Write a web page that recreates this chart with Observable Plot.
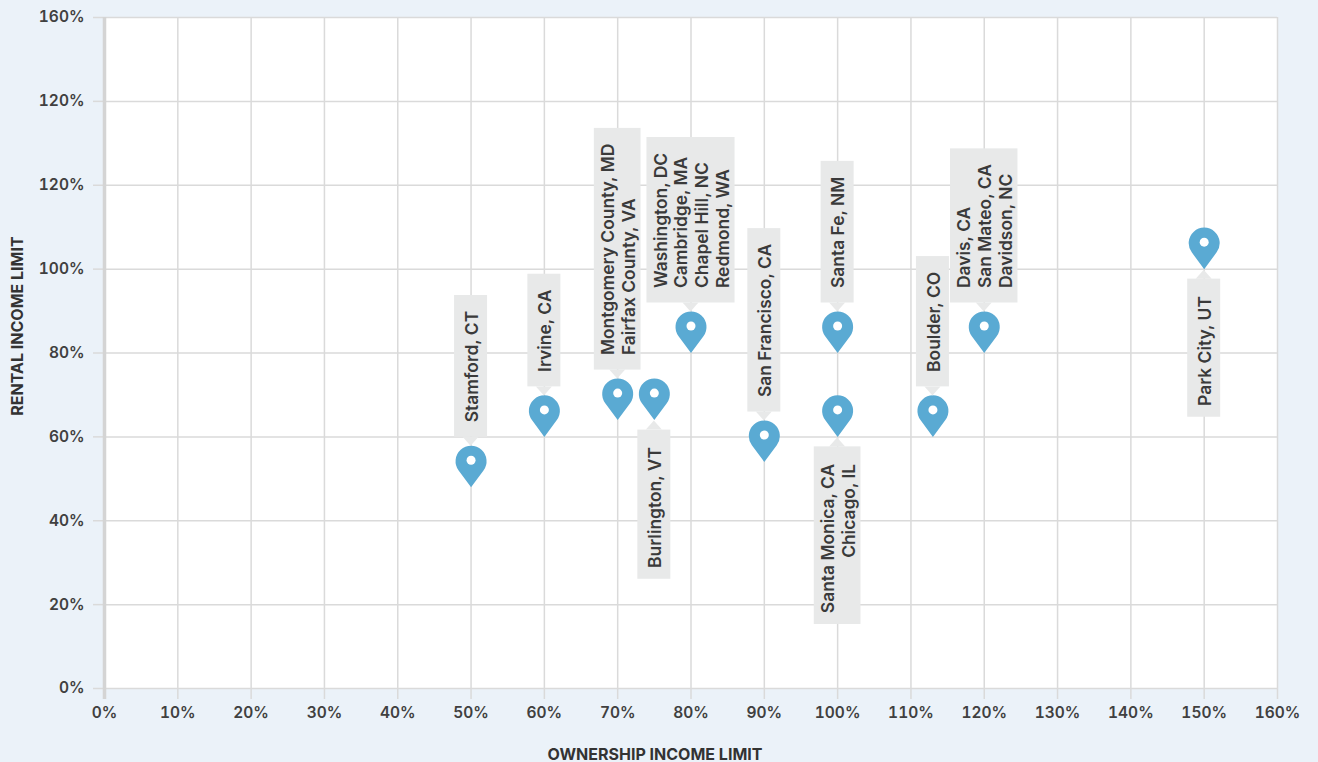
<!DOCTYPE html>
<html>
<head>
<meta charset="utf-8">
<script src="https://cdn.jsdelivr.net/npm/d3@7"></script>
<script src="https://cdn.jsdelivr.net/npm/@observablehq/plot@0.6"></script>
<style>
  html, body { margin: 0; padding: 0; background: #ebf2f9; }
  #chart { width: 1318px; height: 762px; }
  svg { display: block; }
</style>
</head>
<body>
<div id="chart"></div>
<script>
// ---- data ----
const cities = [
  "Stamford, CT",
  "Irvine, CA",
  "Montgomery County, MD\nFairfax County, VA",
  "Burlington, VT",
  "Washington, DC\nCambridge, MA\nChapel Hill, NC\nRedmond, WA",
  "San Francisco, CA",
  "Santa Fe, NM",
  "Santa Monica, CA\nChicago, IL",
  "Boulder, CO",
  "Davis, CA\nSan Mateo, CA\nDavidson, NC",
  "Park City, UT"
];
const ownershipLimit = [50, 60, 70, 75, 80, 90, 100, 100, 113, 120, 150];
const rentalLimit = [48, 60, 64, 64, 80, 54, 80, 60, 60, 80, 100];
const labelSide = ["above", "above", "above", "below", "above", "above", "above", "below", "above", "above", "below"];

const xTicks = [0, 10, 20, 30, 40, 50, 60, 70, 80, 90, 100, 110, 120, 130, 140, 150, 160];
const xTickLabels = ["0%", "10%", "20%", "30%", "40%", "50%", "60%", "70%", "80%", "90%", "100%", "110%", "120%", "130%", "140%", "150%", "160%"];
const yTicks = [0, 20, 40, 60, 80, 100, 120, 140, 160];
const yTickLabels = ["0%", "20%", "40%", "60%", "80%", "100%", "120%", "120%", "160%"];

const xTitle = "OWNERSHIP INCOME LIMIT";
const yTitle = "RENTAL INCOME LIMIT";

// ---- table ----
const data = cities.map((label, i) => ({
  label, x: ownershipLimit[i], y: rentalLimit[i], side: labelSide[i]
}));
const xLabelMap = new Map(xTicks.map((t, i) => [t, xTickLabels[i]]));
const yLabelMap = new Map(yTicks.map((t, i) => [t, yTickLabels[i]]));

// ---- styles ----
const FONT = "Inter, 'Noto Sans', sans-serif";
const PIN = "#5aaad3";
const GRID = "#dadada";
const TEXT = "#3a3a3a";
const BOX = "#e8e9e9";
const LABEL_SIZE = 17.4;
const LINE_H = 1.19;

// map pin symbol: tip at origin
const pinSymbol = {
  draw(ctx) {
    const r = 15.5, cy = -26;
    const t = Math.acos(r / -cy);
    const a0 = Math.PI / 2 + t, a1 = 2 * Math.PI + Math.PI / 2 - t;
    ctx.moveTo(0, 0);
    ctx.lineTo(r * Math.cos(a0), cy + r * Math.sin(a0));
    ctx.arc(0, cy, r, a0, a1, false);
    ctx.closePath();
  }
};

const measureCtx = document.createElement("canvas").getContext("2d");
function textWidth(s) {
  measureCtx.font = `600 ${LABEL_SIZE}px ${FONT}`;
  return measureCtx.measureText(s).width;
}

function labelMark(side) {
  const sub = data.filter(d => d.side === side);
  const above = side === "above";
  return Plot.text(sub, {
    x: "x", y: "y", text: "label",
    rotate: -90,
    textAnchor: above ? "start" : "end",
    lineAnchor: "middle",
    lineHeight: LINE_H,
    fontSize: LABEL_SIZE, fontWeight: 600, fontFamily: FONT,
    fill: TEXT,
    dy: above ? -65 : 27,
    render(index, scales, values, dimensions, context, next) {
      const g = next(index, scales, values, dimensions, context);
      const ns = "http://www.w3.org/2000/svg";
      const outer = document.createElementNS(ns, "g");
      for (const i of index) {
        const px = values.x[i], py = values.y[i];
        const lines = sub[i].label.split("\n");
        const w = Math.max(...lines.map(textWidth));
        const n = lines.length;
        const bw = Math.max(33, (n - 1) * LABEL_SIZE * LINE_H + 26);
        let top, bottom, tri;
        if (above) {
          bottom = py - 50;
          top = py - 65 - w - 15;
          tri = `${px - 8},${bottom} ${px + 8},${bottom} ${px},${bottom + 9}`;
        } else {
          top = py + 10;
          bottom = py + 27 + w + 11;
          tri = `${px - 8},${top} ${px + 8},${top} ${px},${top - 9}`;
        }
        const rect = document.createElementNS(ns, "rect");
        rect.setAttribute("x", px - bw / 2);
        rect.setAttribute("y", top);
        rect.setAttribute("width", bw);
        rect.setAttribute("height", bottom - top);
        rect.setAttribute("fill", BOX);
        outer.appendChild(rect);
        const poly = document.createElementNS(ns, "polygon");
        poly.setAttribute("points", tri);
        poly.setAttribute("fill", BOX);
        outer.appendChild(poly);
      }
      outer.appendChild(g);
      return outer;
    }
  });
}

const chart = Plot.plot({
  width: 1318,
  height: 762,
  marginLeft: 104,
  marginRight: 41,
  marginTop: 17,
  marginBottom: 74,
  style: { fontFamily: FONT, background: "transparent", overflow: "visible" },
  x: { domain: [0, 160] },
  y: { domain: [0, 160] },
  marks: [
    Plot.frame({ fill: "white", stroke: null }),
    Plot.gridX(xTicks, { stroke: GRID, strokeOpacity: 1, strokeWidth: 1.5 }),
    Plot.gridY(yTicks, { stroke: GRID, strokeOpacity: 1, strokeWidth: 1.5 }),
    Plot.axisX({
      ticks: xTicks, tickFormat: d => xLabelMap.get(d), tickSize: 11, tickPadding: 7,
      stroke: GRID, strokeWidth: 1.5, fill: "#404040",
      fontSize: 15.5, fontWeight: 600, fontFamily: FONT, label: null
    }),
    Plot.axisY({
      ticks: yTicks, tickFormat: d => yLabelMap.get(d), tickSize: 11, tickPadding: 9,
      stroke: GRID, strokeWidth: 1.5, fill: "#404040",
      fontSize: 15.5, fontWeight: 600, fontFamily: FONT, label: null
    }),
    Plot.ruleX([0], { stroke: "#d4d4d4", strokeWidth: 3.5, insetBottom: -11 }),
    Plot.dot(data, { x: "x", y: "y", symbol: pinSymbol, r: 15, fill: PIN, stroke: null }),
    Plot.dot(data, { x: "x", y: "y", r: 4.5, fill: "white", stroke: null, dy: -27 }),
    labelMark("above"),
    labelMark("below"),
    Plot.text([xTitle], {
      frameAnchor: "bottom", text: d => d, dx: -36, dy: 66,
      textAnchor: "middle", lineAnchor: "middle",
      fontSize: 16, fontWeight: 700, fontFamily: FONT, fill: "#333"
    }),
    Plot.text([yTitle], {
      frameAnchor: "left", text: d => d, rotate: -90, dx: -87, dy: -27,
      textAnchor: "middle", lineAnchor: "middle",
      fontSize: 16, fontWeight: 700, fontFamily: FONT, fill: "#333"
    })
  ]
});
document.getElementById("chart").appendChild(chart);
</script>
</body>
</html>
